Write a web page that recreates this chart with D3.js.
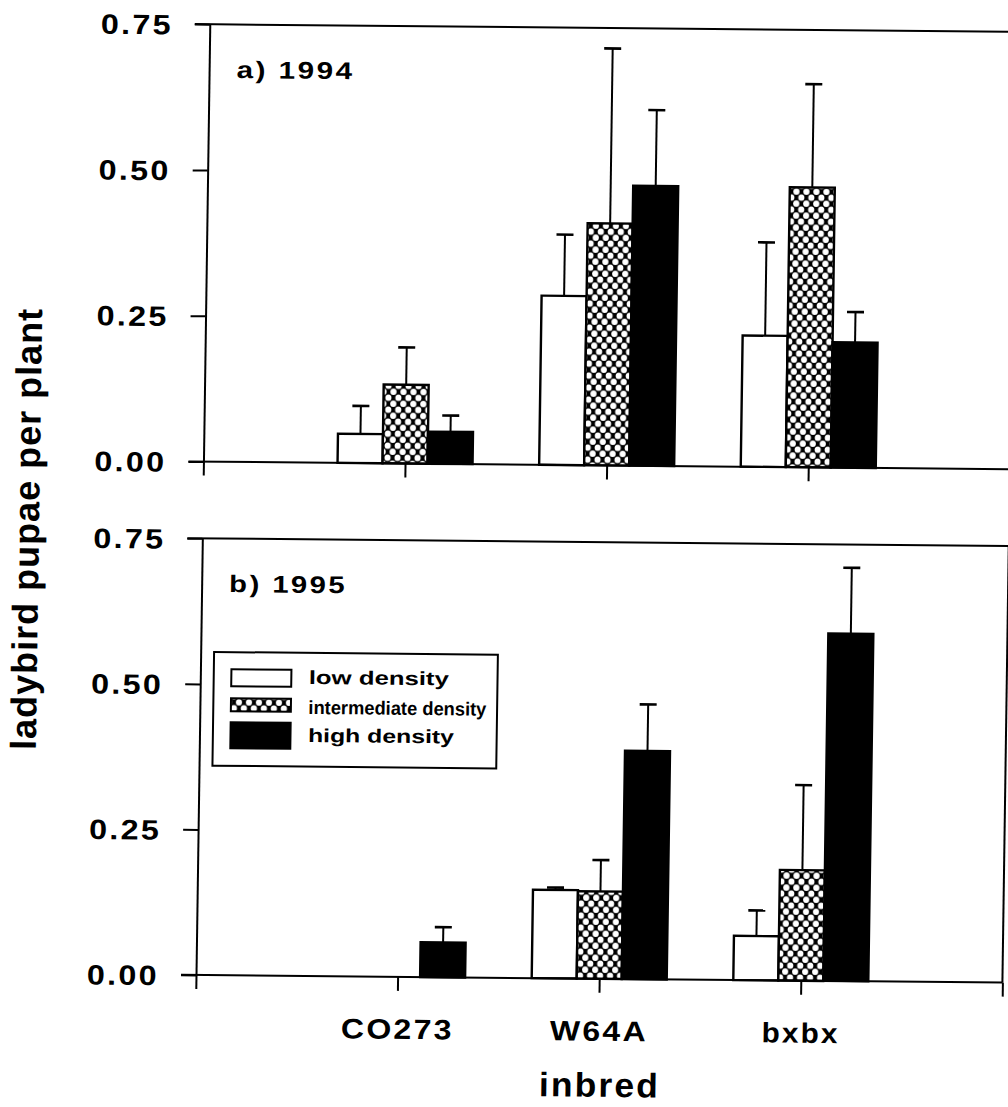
<!DOCTYPE html>
<html>
<head>
<meta charset="utf-8">
<script src="https://cdn.jsdelivr.net/npm/d3@7"></script>
<style>
  html, body { margin: 0; padding: 0; background: #fff; }
  svg { display: block; }
  text { font-family: "Liberation Sans", Arial, Helvetica, sans-serif; font-weight: bold; fill: #000; }
</style>
</head>
<body>
<svg id="chart" width="1008" height="1107"></svg>
<script>
// inbred lines on the x axis
const categories = ["CO273", "W64A", "bxbx"];
// aphid density treatments (legend order)
const series = ["low density", "intermediate density", "high density"];
const yTicks = [0, 0.25, 0.5, 0.75];
const panelLabels = ["a) 1994", "b) 1995"];

// mean ladybird pupae per plant, one row per inbred: [low, intermediate, high]
const mean1994 = [
  [0.050, 0.135, 0.055],
  [0.290, 0.415, 0.480],
  [0.225, 0.480, 0.215]
];
// standard errors (upper bars only)
const se1994 = [
  [0.048, 0.064, 0.028],
  [0.105, 0.300, 0.130],
  [0.160, 0.177, 0.052]
];
const mean1995 = [
  [0.000, 0.000, 0.060],
  [0.152, 0.150, 0.392],
  [0.076, 0.190, 0.597]
];
const se1995 = [
  [0.000, 0.000, 0.026],
  [0.004, 0.054, 0.080],
  [0.044, 0.146, 0.113]
];

const svg = d3.select("#chart");
const defs = svg.append("defs");

// cross-hatch fill: black lattice with white round holes
const pat = defs.append("pattern")
  .attr("id", "hatch")
  .attr("patternUnits", "userSpaceOnUse")
  .attr("width", 10).attr("height", 12);
pat.append("rect").attr("width", 10).attr("height", 12).attr("fill", "#000");
[[0, 0], [10, 0], [0, 12], [10, 12], [5, 6]].forEach(([cx, cy]) => {
  pat.append("ellipse").attr("cx", cx).attr("cy", cy)
    .attr("rx", 3.1).attr("ry", 3.3).attr("fill", "#fff");
});

const fills = ["#fff", "url(#hatch)", "#000"];

// wide bold lettering: stretch each string to its set width
function wide(sel, width) {
  sel.attr("textLength", width).attr("lengthAdjust", "spacingAndGlyphs");
}

// the whole figure sits slightly skewed on the page
const root = svg.append("g")
  .attr("transform", "matrix(1,0.0095,-0.0145,1,14.14,-1.9)");

const X0 = 196, X1 = 1002.4;
const x = d3.scaleLinear().domain([0, 4]).range([X0, X1]);
const sub = d3.scaleBand().domain(series).range([-67.5, 67.5]).padding(0);
const nameWidth = { "CO273": 113, "W64A": 98, "bxbx": 78 };

const panels = [
  { top: 24.3, zero: 461.6, mean: mean1994, se: se1994, label: panelLabels[0], showNames: false },
  { top: 538.4, zero: 975, mean: mean1995, se: se1995, label: panelLabels[1], showNames: true }
];

panels.forEach(p => {
  const y = d3.scaleLinear().domain([0, 0.75]).range([p.zero, p.top]);
  const g = root.append("g");

  // bars
  categories.forEach((c, ci) => {
    series.forEach((s, si) => {
      const v = p.mean[ci][si];
      if (v <= 0) return;
      const cx = x(ci + 1) + sub(s);
      const e = p.se[ci][si];
      const mid = cx + sub.bandwidth() / 2;
      // error bar
      g.append("line")
        .attr("x1", mid).attr("x2", mid)
        .attr("y1", y(v)).attr("y2", y(v + e))
        .attr("stroke", "#000").attr("stroke-width", 2);
      g.append("line")
        .attr("x1", mid - 8.5).attr("x2", mid + 8.5)
        .attr("y1", y(v + e)).attr("y2", y(v + e))
        .attr("stroke", "#000").attr("stroke-width", 2.6);
      g.append("rect")
        .attr("x", cx).attr("width", sub.bandwidth())
        .attr("y", y(v)).attr("height", y(0) - y(v))
        .attr("fill", fills[si])
        .attr("stroke", "#000").attr("stroke-width", 2.4);
    });
  });

  // frame: top and right edges
  g.append("line")
    .attr("x1", X0 - 15).attr("x2", X1)
    .attr("y1", y(0.75)).attr("y2", y(0.75))
    .attr("stroke", "#000").attr("stroke-width", 2);
  g.append("line")
    .attr("x1", X1).attr("x2", X1)
    .attr("y1", y(0.75)).attr("y2", y(0))
    .attr("stroke", "#000").attr("stroke-width", 2);

  // y axis
  const ya = g.append("g").attr("transform", `translate(${X0},0)`)
    .call(d3.axisLeft(y).tickValues(yTicks).tickSize(15).tickSizeOuter(0)
      .tickFormat(d3.format(".2f")));
  ya.selectAll("path, line").attr("stroke", "#000").attr("stroke-width", 2);
  ya.selectAll("text")
    .attr("x", -37).attr("dy", "0.36em")
    .style("font-size", "28px").style("letter-spacing", "2px")
    .call(wide, 72);

  // x axis
  const xa = g.append("g").attr("transform", `translate(0,${p.zero})`)
    .call(d3.axisBottom(x).tickValues([0, 1, 2, 3, 4]).tickSize(14).tickSizeOuter(0)
      .tickFormat(d => (p.showNames && d >= 1 && d <= 3) ? categories[d - 1] : ""));
  xa.selectAll("path, line").attr("stroke", "#000").attr("stroke-width", 2);
  xa.select("path.domain").attr("d", `M${X0 - 15},0H${X1}`);
  xa.selectAll("text")
    .attr("y", 62).attr("dy", 0)
    .style("font-size", "28px").style("letter-spacing", "2px")
    .each(function (d) {
      const t = d3.select(this);
      if (t.text()) wide(t, nameWidth[t.text()]);
    });

  // panel label
  g.append("text")
    .attr("x", 223.5).attr("y", p.top + 53.5)
    .style("font-size", "24px").style("letter-spacing", "2px")
    .call(wide, 118)
    .text(p.label);
});

// legend (lower panel)
const lg = root.append("g");
lg.append("rect")
  .attr("x", 209.4).attr("y", 651.9)
  .attr("width", 493.2 - 209.4).attr("height", 765.6 - 651.9)
  .attr("fill", "#fff").attr("stroke", "#000").attr("stroke-width", 2);
const swatchY = [669, 698, 722];
const swatchH = [17, 13, 26];
const labelY = [683, 713, 741];
const labelW = [140, 178, 146];
series.forEach((s, i) => {
  lg.append("rect")
    .attr("x", 227).attr("y", swatchY[i])
    .attr("width", 60).attr("height", swatchH[i])
    .attr("fill", fills[i]).attr("stroke", "#000").attr("stroke-width", 2);
  lg.append("text")
    .attr("x", 304.5).attr("y", labelY[i])
    .style("font-size", "19px")
    .call(wide, labelW[i])
    .text(s);
});

// axis titles
root.append("text")
  .attr("x", 601).attr("y", 1093)
  .attr("text-anchor", "middle")
  .style("font-size", "34px").style("letter-spacing", "2px")
  .call(wide, 121)
  .text("inbred");

root.append("text")
  .attr("transform", "translate(32.5,530.6) rotate(-90)")
  .attr("text-anchor", "middle")
  .style("font-size", "36px").style("letter-spacing", "1px")
  .text("ladybird pupae per plant");
</script>
</body>
</html>
